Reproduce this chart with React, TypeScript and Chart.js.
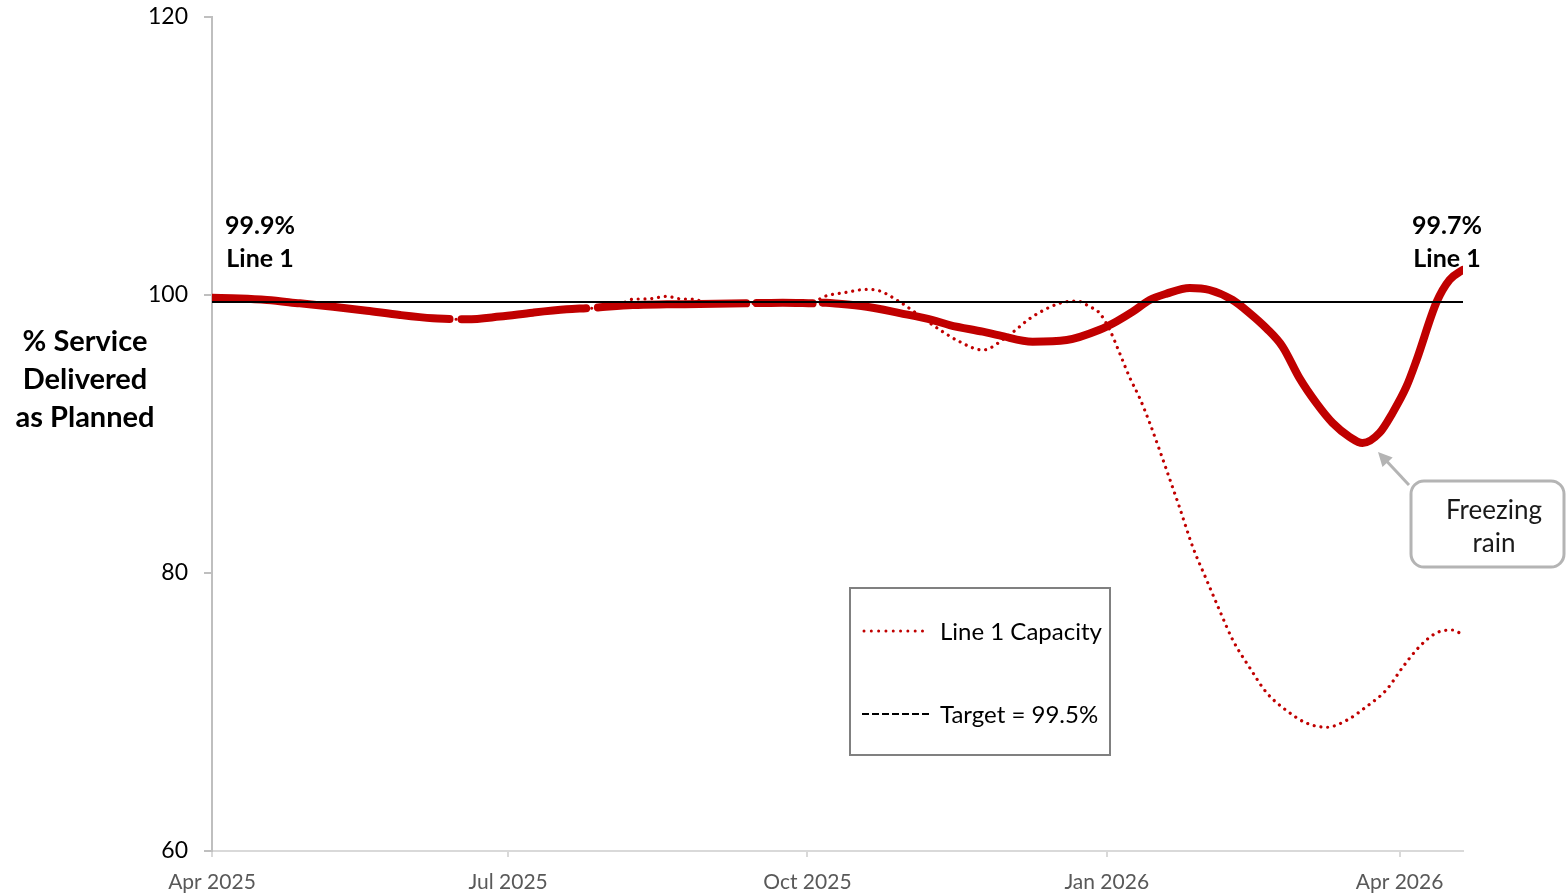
import React, { useEffect, useRef } from "react";
import { Chart, registerables } from "chart.js";

Chart.register(...registerables);

// ---- Data ----
// x values are days since 1 Apr 2025
const tickDays = [0, 91, 183, 275, 365];
const tickLabels = ["Apr 2025", "Jul 2025", "Oct 2025", "Jan 2026", "Apr 2026"];
const yTickValues = [60, 80, 100, 120];

const line1Days = [
  0, 8.6, 16.9, 27, 37.2, 47.6, 57.8, 67.9, 73, 75, 76.7, 78.3, 88.5, 98.6, 109, 115, 117, 118.6,
  129.3, 139.8, 149.9, 164.2, 166, 167.4, 175.4, 184.6, 186, 187.7, 190.8, 201.2, 211.4, 221.5,
  226.7, 236.9, 242, 252.2, 262.7, 272.8, 278, 283, 288.2, 293.4, 300.5, 306.6, 313.7, 318.9,
  324.1, 329, 334.3, 339.5, 344.4, 349.6, 353.6, 358.9, 362.8, 367.1, 370.2, 376.4, 380.4, 384.4,
];
const line1Values = [
  99.8, 99.75, 99.64, 99.4, 99.16, 98.87, 98.56, 98.32, 98.27, null, 98.25, 98.25, 98.45, 98.73,
  98.97, 99.05, null, 99.1, 99.28, 99.33, 99.35, 99.4, null, 99.42, 99.45, 99.4, null, 99.45, 99.4,
  99.16, 98.7, 98.2, 97.84, 97.36, 97.1, 96.64, 96.76, 97.5, 98.1, 98.8, 99.64, 100.1, 100.5,
  100.36, 99.64, 98.7, 97.6, 96.3, 94.0, 92.2, 90.8, 89.8, 89.35, 90.1, 91.5, 93.4, 95.3, 99.5,
  101.1, 101.8,
];

const capacityDays = [
  0, 8.6, 16.9, 27, 37.2, 47.6, 57.8, 67.9, 78.3, 88.5, 98.6, 109, 119.2, 126, 129.3, 134, 139.8,
  144, 148, 152, 164.2, 175.4, 184.6, 187.7, 194.5, 201.2, 204.3, 211.4, 221.5, 229.8, 236.9,
  244.3, 252.2, 260.5, 265.8, 269.8, 272.8, 275.9, 279, 282, 285.1, 288.2, 291.3, 293.4, 297.4,
  301.4, 305.7, 309.7, 313.7, 318.9, 324.1, 330.3, 336.4, 342.6, 348.7, 354.9, 361, 365.9, 371.1,
  376.4, 381.3, 383.4,
];
const capacityValues = [
  99.8, 99.75, 99.64, 99.4, 99.16, 98.87, 98.56, 98.32, 98.25, 98.45, 98.73, 98.97, 99.1, 99.4,
  99.7, 99.72, 99.9, 99.72, 99.7, 99.45, 99.4, 99.45, 99.4, 99.85, 100.17, 100.4, 100.35, 99.5,
  97.84, 96.64, 96.04, 97.0, 98.44, 99.4, 99.57, 99.16, 98.7, 97.5, 95.8, 94.1, 92.6, 90.8, 88.8,
  87.4, 84.7, 81.9, 79.5, 77.3, 75.2, 73.2, 71.4, 70.1, 69.2, 68.9, 69.4, 70.4, 71.6, 73.2, 74.7,
  75.7, 75.9, 75.7,
];

const targetDays = [0, 384.5];
const targetValues = [99.5, 99.5];

const yTitleLines = ["% Service", "Delivered", "as Planned"];
const startLabelLines = ["99.9%", "Line 1"];
const endLabelLines = ["99.7%", "Line 1"];
const legendLabels = ["Line 1 Capacity", "Target = 99.5%"];
const calloutLines = ["Freezing", "rain"];

const RED = "#c00000";
const FONT = "Lato";

const toPoints = (xs: number[], ys: (number | null)[]) => xs.map((x, i) => ({ x, y: ys[i] }));

const annotationsPlugin = {
  id: "annotations",
  afterDraw(chart: any) {
    const ctx: CanvasRenderingContext2D = chart.ctx;
    ctx.save();

    // Y axis title (horizontal, three lines)
    ctx.fillStyle = "#000";
    ctx.textAlign = "center";
    ctx.textBaseline = "middle";
    ctx.font = `bold 29px ${FONT}`;
    yTitleLines.forEach((t, i) => ctx.fillText(t, 85, 342 + i * 38));

    // Start / end value labels
    ctx.font = `bold 25px ${FONT}`;
    startLabelLines.forEach((t, i) => ctx.fillText(t, 260, 226 + i * 33));
    endLabelLines.forEach((t, i) => ctx.fillText(t, 1447, 226 + i * 33));

    // Legend box
    ctx.strokeStyle = "#808080";
    ctx.lineWidth = 2;
    ctx.strokeRect(850, 588, 260, 167);
    // dotted capacity sample
    ctx.beginPath();
    ctx.strokeStyle = RED;
    ctx.lineWidth = 3;
    ctx.lineCap = "round";
    ctx.setLineDash([0.01, 7.3]);
    ctx.moveTo(864, 631);
    ctx.lineTo(928, 631);
    ctx.stroke();
    // dashed target sample
    ctx.beginPath();
    ctx.strokeStyle = "#000";
    ctx.lineWidth = 2;
    ctx.lineCap = "butt";
    ctx.setLineDash([7, 3]);
    ctx.moveTo(862, 714);
    ctx.lineTo(930, 714);
    ctx.stroke();
    ctx.setLineDash([]);
    ctx.fillStyle = "#000";
    ctx.textAlign = "left";
    ctx.font = `24px ${FONT}`;
    ctx.fillText(legendLabels[0], 940, 632);
    ctx.fillText(legendLabels[1], 940, 715);

    // Callout box
    const bx = 1411, by = 481, bw = 153, bh = 86, r = 13;
    ctx.strokeStyle = "#b4b4b4";
    ctx.lineWidth = 3;
    ctx.beginPath();
    ctx.moveTo(bx + r, by);
    ctx.lineTo(bx + bw - r, by);
    ctx.arcTo(bx + bw, by, bx + bw, by + r, r);
    ctx.lineTo(bx + bw, by + bh - r);
    ctx.arcTo(bx + bw, by + bh, bx + bw - r, by + bh, r);
    ctx.lineTo(bx + r, by + bh);
    ctx.arcTo(bx, by + bh, bx, by + bh - r, r);
    ctx.lineTo(bx, by + r);
    ctx.arcTo(bx, by, bx + r, by, r);
    ctx.closePath();
    ctx.stroke();

    // Arrow
    const x0 = 1409, y0 = 485, x1 = 1378, y1 = 452;
    const ang = Math.atan2(y1 - y0, x1 - x0);
    ctx.beginPath();
    ctx.strokeStyle = "#b4b4b4";
    ctx.lineWidth = 3;
    ctx.moveTo(x0, y0);
    ctx.lineTo(x1 - Math.cos(ang) * 8, y1 - Math.sin(ang) * 8);
    ctx.stroke();
    ctx.beginPath();
    ctx.fillStyle = "#b4b4b4";
    const ah = 14, aw = 7;
    ctx.moveTo(x1, y1);
    ctx.lineTo(x1 - ah * Math.cos(ang) + aw * Math.sin(ang), y1 - ah * Math.sin(ang) - aw * Math.cos(ang));
    ctx.lineTo(x1 - ah * Math.cos(ang) - aw * Math.sin(ang), y1 - ah * Math.sin(ang) + aw * Math.cos(ang));
    ctx.closePath();
    ctx.fill();

    ctx.fillStyle = "#1a1a1a";
    ctx.textAlign = "center";
    ctx.font = `26px ${FONT}`;
    calloutLines.forEach((t, i) => ctx.fillText(t, 1494, 511 + i * 33));

    ctx.restore();
  },
};

export default function App() {
  const canvasRef = useRef<HTMLCanvasElement | null>(null);

  useEffect(() => {
    document.body.style.margin = "0";
    const canvas = canvasRef.current;
    if (!canvas) return;
    const chart = new Chart(canvas, {
      type: "line",
      data: {
        datasets: [
          {
            label: "Target = 99.5%",
            data: toPoints(targetDays, targetValues),
            borderColor: "#000",
            borderWidth: 2,
            pointRadius: 0,
            order: 0,
          },
          {
            label: "Line 1 Capacity",
            data: toPoints(capacityDays, capacityValues),
            borderColor: RED,
            borderWidth: 3.2,
            borderDash: [0.01, 6.8],
            borderCapStyle: "round",
            pointRadius: 0,
            cubicInterpolationMode: "monotone",
            order: 1,
          },
          {
            label: "Line 1",
            data: toPoints(line1Days, line1Values),
            borderColor: RED,
            borderWidth: 8,
            borderCapStyle: "round",
            borderJoinStyle: "round",
            pointRadius: 0,
            spanGaps: false,
            cubicInterpolationMode: "monotone",
            order: 2,
          },
        ],
      },
      options: {
        responsive: false,
        animation: false,
        devicePixelRatio: 1,
        layout: { padding: { top: 17, right: 104, bottom: 0, left: 0 } },
        plugins: { legend: { display: false }, tooltip: { enabled: false } },
        scales: {
          x: {
            type: "linear",
            min: 0,
            max: 384.5,
            afterBuildTicks: (s: any) => {
              s.ticks = tickDays.map((v) => ({ value: v }));
            },
            afterFit: (s: any) => {
              s.height = 43;
            },
            ticks: {
              autoSkip: false,
              maxRotation: 0,
              minRotation: 0,
              padding: 13,
              color: "#595959",
              font: { family: FONT, size: 21 },
              callback: (v: any) => {
                const i = tickDays.indexOf(Number(v));
                return i >= 0 ? tickLabels[i] : "";
              },
            },
            grid: { drawOnChartArea: false, drawTicks: true, tickLength: 6, color: "#d9d9d9", lineWidth: 2 },
            border: { color: "#d9d9d9", width: 2 },
          },
          y: {
            type: "linear",
            min: 60,
            max: 120,
            afterBuildTicks: (s: any) => {
              s.ticks = yTickValues.map((v) => ({ value: v }));
            },
            afterFit: (s: any) => {
              s.width = 212;
              s.paddingTop = 0;
              s.paddingBottom = 0;
            },
            ticks: {
              padding: 16,
              color: "#000",
              font: { family: FONT, size: 23 },
            },
            grid: { drawOnChartArea: false, drawTicks: true, tickLength: 8, color: "#bfbfbf", lineWidth: 2 },
            border: { color: "#bfbfbf", width: 2 },
          },
        },
      },
      plugins: [annotationsPlugin],
    } as any);
    return () => chart.destroy();
  }, []);

  return (
    <div style={{ position: "absolute", left: 0, top: 0, width: 1567, height: 894 }}>
      <canvas ref={canvasRef} width={1567} height={894} />
    </div>
  );
}
